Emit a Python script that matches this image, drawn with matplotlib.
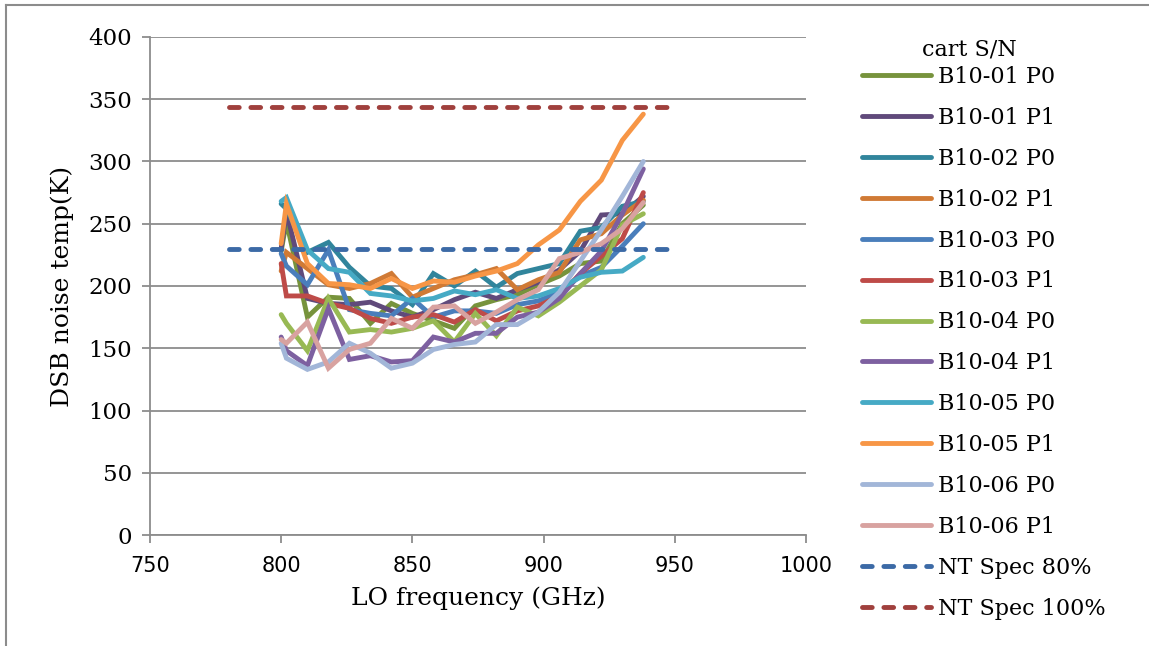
import numpy as np
import matplotlib
matplotlib.use("Agg")
import matplotlib.pyplot as plt
from matplotlib.lines import Line2D

# LO frequencies (GHz)
lo_freq = [800, 802, 810, 818, 826, 834, 842, 850, 858, 866, 874, 882, 890, 898, 906, 914, 922, 930, 938]

# DSB noise temperature (K) per cartridge / polarization
b1001_p0 = [228, 252, 175, 191, 190, 170, 186, 178, 172, 166, 184, 189, 193, 201, 208, 218, 220, 250, 265]
b1001_p1 = [230, 260, 190, 186, 185, 187, 180, 175, 181, 189, 195, 190, 197, 203, 213, 228, 257, 258, 272]
b1002_p0 = [266, 262, 227, 235, 215, 200, 198, 185, 210, 200, 212, 199, 210, 214, 218, 244, 247, 264, 268]
b1002_p1 = [212, 227, 214, 201, 198, 202, 210, 191, 198, 205, 209, 214, 197, 205, 211, 237, 242, 257, 269]
b1003_p0 = [226, 216, 201, 229, 181, 178, 176, 190, 175, 180, 180, 178, 185, 188, 195, 208, 215, 232, 250]
b1003_p1 = [218, 192, 192, 186, 182, 174, 170, 175, 177, 171, 181, 172, 180, 184, 192, 210, 224, 238, 275]
b1004_p0 = [177, 170, 148, 190, 163, 165, 163, 166, 172, 155, 178, 160, 183, 176, 187, 200, 213, 249, 258]
b1004_p1 = [159, 148, 136, 182, 141, 144, 139, 140, 159, 155, 162, 162, 175, 179, 190, 210, 228, 258, 294]
b1005_p0 = [268, 271, 229, 214, 211, 194, 192, 188, 190, 196, 193, 197, 190, 192, 198, 207, 211, 212, 223]
b1005_p1 = [234, 266, 218, 202, 201, 198, 206, 198, 204, 203, 208, 212, 218, 233, 245, 268, 285, 317, 338]
b1006_p0 = [154, 142, 133, 139, 154, 146, 134, 138, 149, 153, 155, 169, 169, 179, 195, 220, 245, 272, 300]
b1006_p1 = [157, 154, 171, 134, 149, 154, 174, 166, 183, 184, 170, 179, 189, 197, 222, 227, 234, 246, 267]

# noise temperature spec lines
spec_freq = [780, 950]
spec_80 = [230, 230]
spec_100 = [344, 344]

series = [
    ("B10-01 P0", b1001_p0, "#77933C"),
    ("B10-01 P1", b1001_p1, "#604A7B"),
    ("B10-02 P0", b1002_p0, "#31859C"),
    ("B10-02 P1", b1002_p1, "#D07A35"),
    ("B10-03 P0", b1003_p0, "#4A7EBB"),
    ("B10-03 P1", b1003_p1, "#BE4B48"),
    ("B10-04 P0", b1004_p0, "#98B954"),
    ("B10-04 P1", b1004_p1, "#7D60A0"),
    ("B10-05 P0", b1005_p0, "#46AAC5"),
    ("B10-05 P1", b1005_p1, "#F79646"),
    ("B10-06 P0", b1006_p0, "#A2B6D8"),
    ("B10-06 P1", b1006_p1, "#D8A2A0"),
]

serif = ["DejaVu Serif"]
sans = ["DejaVu Sans"]

fig = plt.figure(figsize=(11.49, 6.46), dpi=100)
ax = fig.add_axes([0.1305, 0.1718, 0.571, 0.771])

lw = 3.5
for name, vals, col in series:
    ax.plot(lo_freq, vals, color=col, lw=lw, label=name,
            solid_capstyle="round", solid_joinstyle="miter")

ax.plot(spec_freq, spec_80, color="#3C6AA6", lw=lw, ls=(0, (2.0, 2.4)),
        dash_capstyle="round", label="NT Spec 80%")
ax.plot(spec_freq, spec_100, color="#A0403D", lw=lw, ls=(0, (2.0, 2.4)),
        dash_capstyle="round", label="NT Spec 100%")

ax.set_xlim(750, 1000)
ax.set_ylim(0, 400)
ax.set_xticks(np.arange(750, 1001, 50))
ax.set_yticks(np.arange(0, 401, 50))
ax.grid(axis="y", color="#8C8C8C", lw=1.3)
ax.set_axisbelow(True)
for s in ["top", "right"]:
    ax.spines[s].set_visible(False)
for s in ["left", "bottom"]:
    ax.spines[s].set_color("#8C8C8C")
    ax.spines[s].set_linewidth(1.3)
ax.tick_params(axis="both", color="#8C8C8C", width=1.3, length=6)
ax.tick_params(axis="x", pad=9)
ax.tick_params(axis="y", pad=7)

for t in ax.get_yticklabels():
    t.set_family(serif)
    t.set_fontsize(16.5)
for t in ax.get_xticklabels():
    t.set_family(sans)
    t.set_fontsize(15)

ax.set_xlabel("LO frequency (GHz)", family=serif, fontsize=18, labelpad=8)
ax.set_ylabel("DSB noise temp(K)", family=serif, fontsize=18, labelpad=10)

leg = ax.legend(loc="upper left", bbox_to_anchor=(0.7505, 0.8978),
                bbox_transform=fig.transFigure, frameon=False,
                prop={"family": serif, "size": 16},
                handlelength=3.1, handletextpad=0.3, labelspacing=0.85,
                borderaxespad=0, borderpad=0)
for h in leg.get_lines():
    h.set_solid_capstyle("round")
fig.text(969 / 1149, 1 - 50 / 646, "cart S/N", family=serif, fontsize=16,
         ha="center", va="center")

# outer frame of the chart
fig.add_artist(Line2D([6 / 1149, 6 / 1149], [0, 1 - 5 / 646], color="#8C8C8C", lw=1.5))
fig.add_artist(Line2D([6 / 1149, 1], [1 - 5 / 646, 1 - 5 / 646], color="#8C8C8C", lw=1.5))

fig.savefig("out.png", dpi=100)
